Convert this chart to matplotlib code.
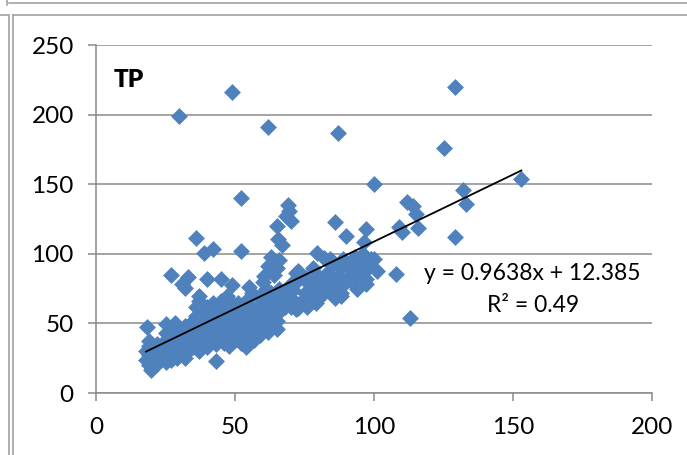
import matplotlib
matplotlib.use("Agg")
import matplotlib.pyplot as plt
from matplotlib.lines import Line2D
import numpy as np

# ---- data ----
outlier_x = [30, 49, 62, 87, 129, 125, 153, 132, 133, 100, 52, 112, 114, 115, 116, 109, 110, 129, 113, 108,
             69, 69.5, 68.5, 70, 65, 86, 90, 97, 65.5, 67, 36, 38.7, 42, 52, 63, 66, 62, 60.5,
             27, 33, 32, 31, 40, 45, 49, 55, 37, 47, 18.5, 19, 25, 28.4, 43, 19.7,
             79.6, 82, 85, 96.5, 100, 101, 97, 94, 90, 91.5, 94.6, 96.2, 72.6, 75.7, 79, 72.6, 85.2, 88.3,
             83.6, 82, 86.8]
outlier_y = [199, 216, 191, 187, 220, 176, 154, 146, 136, 150, 140, 137, 134, 128.6, 118.5, 119.5, 115.4, 112, 53.6, 85.8,
             135, 130.5, 127.4, 123.8, 119.7, 123, 112.7, 117.8, 110.6, 106.5, 111, 100.5, 103.4, 101.7, 97.4, 95.7, 91.3, 84.1,
             85, 83, 75.7, 78.1, 81.7, 81.7, 77.6, 76.2, 69.7, 69.7, 47.6, 37.3, 49.3, 50.5, 22.8, 16.8,
             100.5, 97, 95, 108.2, 96, 87.7, 78, 74.5, 92.5, 84.1, 87.7, 91.3, 87.7, 82.9, 64.9, 61.3, 70.9, 69.7,
             75.7, 80.5, 80.5]

blob_x = [18, 18, 19, 19, 20, 20, 20, 21, 21, 22, 22, 22, 19,
          23, 23, 24, 24, 25, 25, 26, 26, 27, 27, 25, 27,
          28, 28, 29, 29, 30, 30, 31, 31, 32, 32, 32, 30,
          33, 33, 34, 34, 35, 35, 36, 36, 37, 37, 35, 36, 37,
          38, 38, 38, 39, 39, 40, 40, 40, 41, 41, 42, 42, 42, 40,
          43, 43, 44, 44, 45, 45, 45, 46, 46, 47, 47, 47, 44,
          48, 48, 48, 49, 49, 50, 50, 50, 51, 51, 52, 52, 52,
          53, 53, 54, 54, 55, 55, 55, 56, 56, 57, 57, 54, 56,
          58, 58, 59, 59, 60, 60, 60, 61, 61, 62, 62, 62, 58, 60,
          63, 63, 63, 64, 64, 65, 65, 65, 66, 66, 67, 67, 64, 65,
          68, 68, 69, 70, 70, 71, 72, 72, 72, 70,
          74, 74, 75, 76, 77, 78, 79, 80, 80, 78, 76,
          82, 83, 84, 85, 86, 87, 88, 88, 90, 89, 84, 86,
          92, 93, 94, 95, 96, 97, 98, 96, 93, 99]
blob_y = [24, 30, 20, 27, 18, 22, 33, 25, 29, 21, 35, 27, 34,
          24, 30, 28, 36, 22, 32, 26, 38, 30, 24, 43, 45,
          28, 34, 40, 25, 32, 44, 36, 28, 25, 40, 48, 38,
          30, 42, 36, 50, 33, 45, 40, 55, 30, 48, 52, 62, 66,
          35, 44, 58, 50, 40, 33, 46, 62, 55, 38, 48, 42, 65, 55,
          35, 52, 45, 60, 40, 56, 66, 50, 36, 46, 60, 68, 38,
          34, 50, 58, 42, 62, 46, 38, 55, 50, 65, 44, 58, 36,
          48, 62, 33, 55, 40, 50, 68, 45, 60, 38, 52, 42, 72,
          48, 62, 42, 70, 52, 45, 66, 58, 75, 44, 50, 64, 56, 80,
          48, 60, 72, 55, 68, 46, 52, 62, 58, 75, 70, 64, 85, 90,
          62, 72, 66, 78, 68, 74, 60, 80, 86, 62,
          66, 84, 72, 62, 78, 70, 66, 76, 84, 90, 80,
          72, 86, 78, 92, 76, 84, 72, 90, 80, 96, 96, 68,
          90, 84, 76, 88, 100, 82, 90, 94, 98, 96]

slope = 0.9638
intercept = 12.385
r2 = 0.49

x_ticks = [0, 50, 100, 150, 200]
y_ticks = [0, 50, 100, 150, 200, 250]

x_all = np.array(outlier_x + blob_x, dtype=float)
y_all = np.array(outlier_y + blob_y, dtype=float)

# ---- figure ----
plt.rcParams['font.family'] = ['Lato', 'DejaVu Sans']
fig = plt.figure(figsize=(6.87, 4.55), dpi=100)
ax = fig.add_axes([96/687, 1-393/455, (652-96)/687, (393-45)/455])

grid_c = '#8a8a8a'
ax.set_xlim(0, 200)
ax.set_ylim(0, 250)
ax.set_xticks(x_ticks)
ax.set_yticks(y_ticks)
ax.yaxis.grid(True, color=grid_c, linewidth=1.1)
ax.set_axisbelow(True)
for s in ['top', 'right']:
    ax.spines[s].set_visible(False)
for s in ['left', 'bottom']:
    ax.spines[s].set_color(grid_c)
    ax.spines[s].set_linewidth(1.1)
ax.tick_params(axis='both', direction='out', color=grid_c, width=1.1, length=6,
               labelsize=17.5, labelcolor='black')
ax.tick_params(axis='y', pad=10)
ax.tick_params(axis='x', pad=11)

ax.scatter(x_all, y_all, marker='D', s=74, color='#4F81BD', linewidths=0, zorder=3)

xl = np.array([x_all.min(), x_all.max()])
ax.plot(xl, slope*xl + intercept, color='black', linewidth=1.3, zorder=4)

ax.text(114/687, 1-80/455, 'TP', transform=fig.transFigure, fontsize=17.5, fontweight='heavy',
        ha='left', va='center')
ax.text(532/687, 1-273/455, f'y = {slope}x + {intercept}', transform=fig.transFigure,
        fontsize=16.5, ha='center', va='center')
ax.text(533/687, 1-305/455, f'R² = {r2}', transform=fig.transFigure,
        fontsize=16.5, ha='center', va='center')

# frame remnants
W, H = 687, 455
fc = '#9a9a9a'
def fl(x0, y0, x1, y1):
    fig.add_artist(Line2D([x0/W, x1/W], [1-y0/H, 1-y1/H], color=fc, linewidth=1.1,
                          transform=fig.transFigure))
fl(9, 3, 687, 3)
fl(7, 0, 7, 5)
fl(0, 15, 8, 15)
fl(13, 15, 687, 15)
fl(9, 15, 9, 455)
fl(13, 15, 13, 455)

fig.savefig('out.png', dpi=100)
